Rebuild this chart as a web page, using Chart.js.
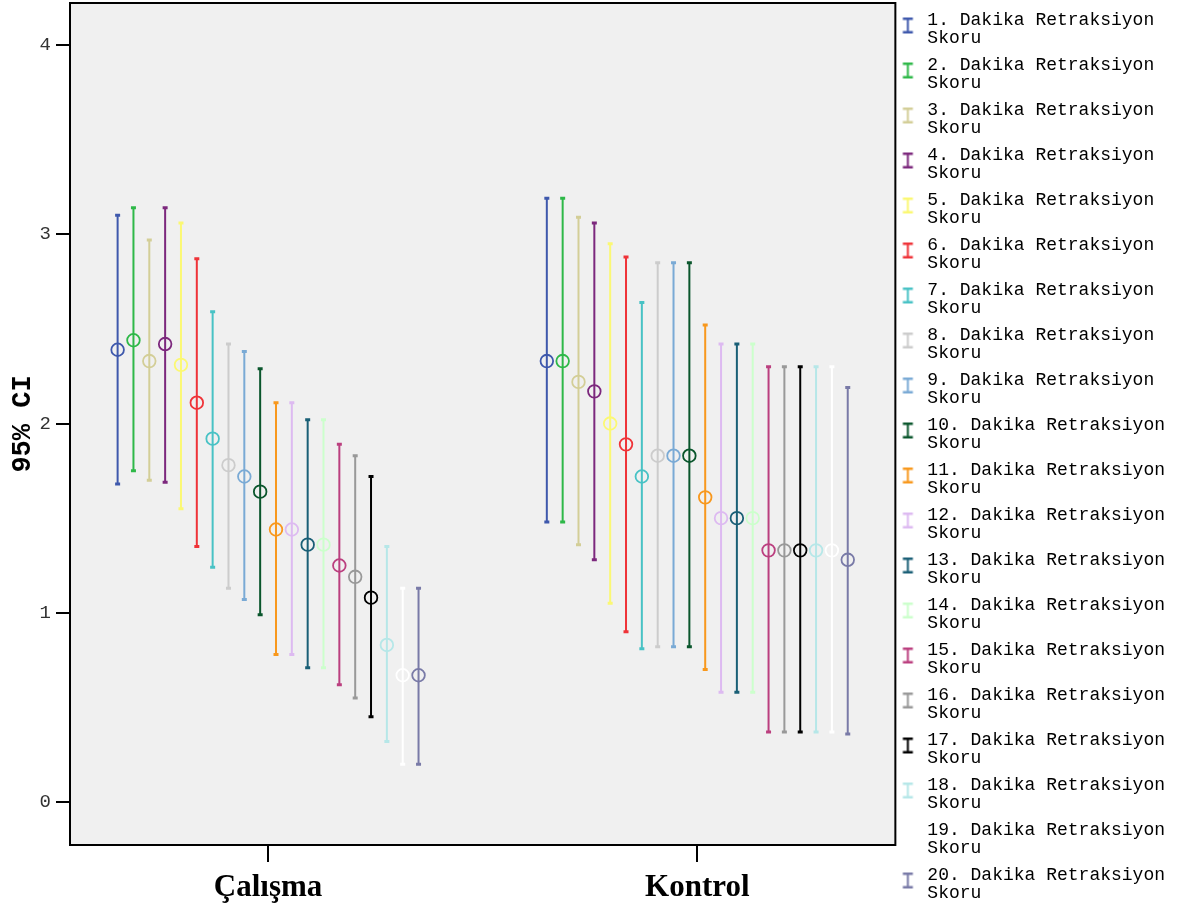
<!DOCTYPE html>
<html>
<head>
<meta charset="utf-8">
<script src="https://cdn.jsdelivr.net/npm/chart.js@4.4.1/dist/chart.umd.min.js"></script>
<style>
  html, body { margin: 0; padding: 0; background: #fff; }
</style>
</head>
<body>
<canvas id="ciChart" width="1198" height="914"></canvas>
<script>
  // groups on the x axis and the 20 measured series
  const groups = ['Çalışma', 'Kontrol'];
  const seriesNames = [
    '1. Dakika Retraksiyon Skoru', '2. Dakika Retraksiyon Skoru', '3. Dakika Retraksiyon Skoru',
    '4. Dakika Retraksiyon Skoru', '5. Dakika Retraksiyon Skoru', '6. Dakika Retraksiyon Skoru',
    '7. Dakika Retraksiyon Skoru', '8. Dakika Retraksiyon Skoru', '9. Dakika Retraksiyon Skoru',
    '10. Dakika Retraksiyon Skoru', '11. Dakika Retraksiyon Skoru', '12. Dakika Retraksiyon Skoru',
    '13. Dakika Retraksiyon Skoru', '14. Dakika Retraksiyon Skoru', '15. Dakika Retraksiyon Skoru',
    '16. Dakika Retraksiyon Skoru', '17. Dakika Retraksiyon Skoru', '18. Dakika Retraksiyon Skoru',
    '19. Dakika Retraksiyon Skoru', '20. Dakika Retraksiyon Skoru'
  ];

  // means and 95% CI bounds, per group
  const calismaMean = [2.39, 2.44, 2.33, 2.42, 2.31, 2.11, 1.92, 1.78, 1.72, 1.64, 1.44, 1.44, 1.36, 1.36, 1.25, 1.19, 1.08, 0.83, 0.67, 0.67];
  const calismaLow  = [1.68, 1.75, 1.70, 1.69, 1.55, 1.35, 1.24, 1.13, 1.07, 0.99, 0.78, 0.78, 0.71, 0.71, 0.62, 0.55, 0.45, 0.32, 0.20, 0.20];
  const calismaHigh = [3.10, 3.14, 2.97, 3.14, 3.06, 2.87, 2.59, 2.42, 2.38, 2.29, 2.11, 2.11, 2.02, 2.02, 1.89, 1.83, 1.72, 1.35, 1.13, 1.13];

  const kontrolMean = [2.33, 2.33, 2.22, 2.17, 2.00, 1.89, 1.72, 1.83, 1.83, 1.83, 1.61, 1.50, 1.50, 1.50, 1.33, 1.33, 1.33, 1.33, 1.33, 1.28];
  const kontrolLow  = [1.48, 1.48, 1.36, 1.28, 1.05, 0.90, 0.81, 0.82, 0.82, 0.82, 0.70, 0.58, 0.58, 0.58, 0.37, 0.37, 0.37, 0.37, 0.37, 0.36];
  const kontrolHigh = [3.19, 3.19, 3.09, 3.06, 2.95, 2.88, 2.64, 2.85, 2.85, 2.85, 2.52, 2.42, 2.42, 2.42, 2.30, 2.30, 2.30, 2.30, 2.30, 2.19];

  const yTicks = [0, 1, 2, 3, 4];

  const colors = [
    '#3e58ac', '#2eb848', '#d3ce97', '#7c287d', '#fbf873', '#ef3338', '#48c2c5', '#cccccc', '#7aaad5', '#0a562c',
    '#f8981d', '#ddbaf1', '#1a5f76', '#ccffcc', '#bb3f7f', '#999999', '#000000', '#b6e7e8', '#ffffff', '#797aa7'
  ];

  const means = [calismaMean, kontrolMean];
  const lows = [calismaLow, kontrolLow];
  const highs = [calismaHigh, kontrolHigh];

  // spread of the series inside one group (x units)
  const step = 0.0369;
  const xPos = (g, i) => g + 1 + (i - (seriesNames.length - 1) / 2) * step;

  // "I" shaped legend markers
  function makeIcon(color) {
    const c = document.createElement('canvas');
    c.width = 20; c.height = 30;
    const g = c.getContext('2d');
    g.fillStyle = color;
    g.fillRect(1.5, 12, 10, 2.5);
    g.fillRect(5.5, 12, 2, 16);
    g.fillRect(1.5, 25.5, 10, 2.5);
    return c;
  }
  const icons = colors.map(makeIcon);

  const datasets = [];
  seriesNames.forEach((name, i) => {
    datasets.push({
      type: 'bar',
      label: name,
      xAxisID: 'x',
      data: groups.map((_, g) => ({ x: xPos(g, i), y: [lows[g][i], highs[g][i]] })),
      backgroundColor: colors[i],
      borderWidth: 0,
      grouped: false,
      maxBarThickness: 2,
      order: 2
    });
    const caps = [];
    groups.forEach((_, g) => {
      caps.push({ x: xPos(g, i), y: lows[g][i] });
      caps.push({ x: xPos(g, i), y: highs[g][i] });
    });
    datasets.push({
      type: 'scatter',
      label: name + ' caps',
      xAxisID: 'x',
      data: caps,
      pointStyle: 'line',
      pointRadius: 2.5,
      pointHoverRadius: 2.5,
      pointBorderWidth: 3,
      pointBorderColor: colors[i],
      order: 1
    });
    datasets.push({
      type: 'scatter',
      label: name + ' mean',
      xAxisID: 'x',
      data: groups.map((_, g) => ({ x: xPos(g, i), y: means[g][i] })),
      pointStyle: 'circle',
      pointRadius: 6.3,
      pointHoverRadius: 6.3,
      pointBorderWidth: 1.8,
      pointBorderColor: colors[i],
      pointBackgroundColor: 'rgba(0,0,0,0)',
      order: 0
    });
  });

  const plotFrame = {
    id: 'plotFrame',
    beforeDraw(chart) {
      const { ctx, chartArea: a } = chart;
      ctx.save();
      ctx.fillStyle = '#f0f0f0';
      ctx.fillRect(a.left, a.top, a.right - a.left, a.bottom - a.top);
      ctx.restore();
    },
    afterDraw(chart) {
      const { ctx, chartArea: a } = chart;
      ctx.save();
      ctx.strokeStyle = '#000';
      ctx.lineWidth = 2;
      ctx.strokeRect(a.left, a.top, a.right - a.left, a.bottom - a.top);
      ctx.restore();
    }
  };

  new Chart(document.getElementById('ciChart'), {
    type: 'bar',
    data: { datasets },
    plugins: [plotFrame],
    options: {
      responsive: false,
      animation: false,
      layout: { autoPadding: false, padding: { top: 0, bottom: 0, left: 0, right: 23 } },
      plugins: {
        tooltip: { enabled: false },
        legend: {
          position: 'right',
          align: 'center',
          labels: {
            usePointStyle: true,
            pointStyleWidth: 14,
            padding: 9,
            color: '#222',
            font: { family: 'Liberation Mono', size: 18, lineHeight: 1.0 },
            generateLabels: () => seriesNames.map((name, i) => {
              const cut = name.lastIndexOf(' ');
              return {
                text: [name.slice(0, cut), name.slice(cut + 1)],
                pointStyle: icons[i],
                fillStyle: colors[i],
                strokeStyle: colors[i],
                lineWidth: 0,
                hidden: false,
                datasetIndex: i * 3
              };
            })
          }
        }
      },
      scales: {
        x: {
          type: 'linear',
          position: 'bottom',
          offset: false,
          min: 0.5385,
          max: 2.4615,
          afterBuildTicks: axis => { axis.ticks = groups.map((_, g) => ({ value: g + 1 })); },
          afterFit: axis => { axis.height = 69; },
          border: { display: false },
          grid: { offset: false, drawOnChartArea: false, drawTicks: true, tickLength: 17, color: '#000', lineWidth: 2 },
          ticks: {
            padding: 7,
            maxRotation: 0,
            autoSkip: false,
            color: '#000',
            font: { family: 'Liberation Serif', size: 31, weight: 'bold' },
            callback: v => groups[Math.round(v) - 1]
          }
        },
        xTop: {
          type: 'linear',
          position: 'top',
          display: true,
          afterFit: axis => { axis.height = 3; axis.paddingLeft = 0; axis.paddingRight = 0; },
          border: { display: false },
          grid: { display: false, drawTicks: false, tickLength: 0 },
          ticks: { display: false }
        },
        y: {
          type: 'linear',
          min: -0.227,
          max: 4.222,
          afterBuildTicks: axis => { axis.ticks = yTicks.map(v => ({ value: v })); },
          afterFit: axis => { axis.width = 70; axis.paddingTop = 0; axis.paddingBottom = 0; },
          border: { display: false },
          grid: { drawOnChartArea: false, drawTicks: true, tickLength: 14, color: '#000', lineWidth: 2 },
          ticks: {
            padding: 5,
            color: '#333',
            font: { family: 'Liberation Mono', size: 19 }
          },
          title: {
            display: true,
            text: '95% CI',
            color: '#000',
            padding: { top: 7, bottom: 0 },
            font: { family: 'Liberation Mono', size: 27, weight: 'bold' }
          }
        }
      }
    }
  });
</script>
</body>
</html>
